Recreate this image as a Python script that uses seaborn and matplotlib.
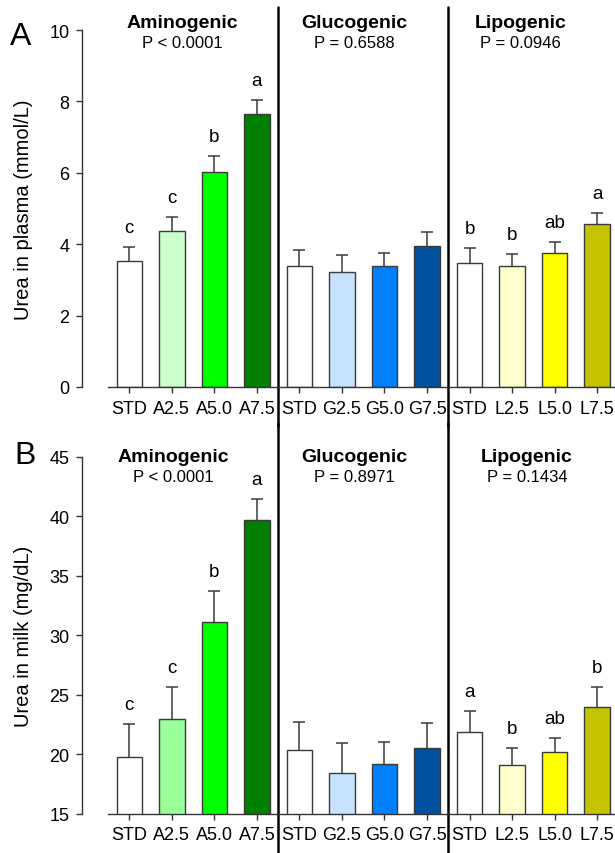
import numpy as np
import pandas as pd
import matplotlib
matplotlib.use("Agg")
import matplotlib.pyplot as plt
import seaborn as sns

# Data
labels = ["STD", "A2.5", "A5.0", "A7.5", "STD", "G2.5", "G5.0", "G7.5",
          "STD", "L2.5", "L5.0", "L7.5"]

plasma_mean = [3.54, 4.36, 6.01, 7.64, 3.38, 3.23, 3.40, 3.95, 3.48, 3.38, 3.76, 4.56]
plasma_se = [0.39, 0.41, 0.47, 0.39, 0.47, 0.48, 0.34, 0.40, 0.42, 0.35, 0.31, 0.31]
plasma_letters = ["c", "c", "b", "a", "", "", "", "", "b", "b", "ab", "a"]
plasma_p = ["P < 0.0001", "P = 0.6588", "P = 0.0946"]

milk_mean = [19.76, 22.98, 31.12, 39.68, 20.35, 18.44, 19.20, 20.54, 21.86, 19.11, 20.24, 23.98]
milk_se = [2.77, 2.66, 2.63, 1.77, 2.35, 2.55, 1.82, 2.07, 1.76, 1.46, 1.17, 1.68]
milk_letters = ["c", "c", "b", "a", "", "", "", "", "a", "b", "ab", "b"]
milk_p = ["P < 0.0001", "P = 0.8971", "P = 0.1434"]

groups = ["Aminogenic", "Glucogenic", "Lipogenic"]

colors_a = ["#ffffff", "#ccffcc", "#00ff00", "#008000",
            "#ffffff", "#c6e2ff", "#0080ff", "#0052a0",
            "#ffffff", "#ffffcc", "#ffff00", "#c4c400"]
colors_b = list(colors_a)
colors_b[1] = "#99ff99"

sns.set_style("white")
plt.rcParams["font.family"] = ["Liberation Sans", "DejaVu Sans"]
plt.rcParams["text.color"] = "black"
plt.rcParams["axes.labelcolor"] = "black"
plt.rcParams["xtick.color"] = "black"
plt.rcParams["ytick.color"] = "black"

fig = plt.figure(figsize=(6.15, 8.54), dpi=100)
ax_a = fig.add_axes([108 / 615, 1 - 388 / 854, 1 - 108 / 615, 357 / 854])
ax_b = fig.add_axes([108 / 615, 1 - 815 / 854, 1 - 108 / 615, 357.3 / 854])

edge = "#3a3a3a"


def draw_panel(ax, means, ses, letters, pvals, colors, ylim, yticks, ylabel,
               title_x, title_y, p_y):
    df = pd.DataFrame({"pos": [str(i) for i in range(len(means))], "val": means})
    sns.barplot(data=df, x="pos", y="val", hue="pos", palette=colors, legend=False,
                width=0.6, saturation=1, edgecolor=edge, linewidth=1.0, ax=ax,
                errorbar=None)
    x = np.arange(len(means))
    tops = np.array(means) + np.array(ses)
    # upper error bar only, with a single cap at the top
    ax.vlines(x, means, tops, color=edge, lw=1.1, zorder=3)
    ax.plot(x, tops, ls="none", marker="_", ms=8, mew=1.1, color=edge, zorder=3)
    for xi, t, lab in zip(x, tops, letters):
        if lab:
            ax.annotate(lab, (xi, t), xytext=(0, 8), textcoords="offset points",
                        ha="center", va="bottom", fontsize=13.5)
    for gx, g, p in zip(title_x, groups, pvals):
        ax.text(gx, title_y, g, ha="center", va="center", fontsize=14,
                fontweight="bold", clip_on=False)
        ax.text(gx, p_y, p, ha="center", va="center", fontsize=12, clip_on=False)

    ax.set_xlim(-0.5, 11.42)
    ax.set_ylim(*ylim)
    ax.set_yticks(yticks)
    ax.set_xticks(x)
    ax.set_xticklabels(labels)
    ax.set_xlabel("")
    ax.set_ylabel(ylabel, fontsize=14.5)
    ax.yaxis.set_label_coords(-0.148, 0.5)

    for side in ["top", "right"]:
        ax.spines[side].set_visible(False)
    ax.spines["left"].set_position(("outward", 18.7))
    for side in ["left", "bottom"]:
        ax.spines[side].set_color("#333333")
        ax.spines[side].set_linewidth(1.0)
    ax.tick_params(axis="both", direction="out", length=4, width=1,
                   color="#333333", labelsize=13, pad=5, bottom=True, left=True)
    ax.grid(False)


draw_panel(ax_a, plasma_mean, plasma_se, plasma_letters, plasma_p, colors_a,
           (0, 10), [0, 2, 4, 6, 8, 10], "Urea in plasma (mmol/L)",
           [1.24, 5.3, 9.2], 10.22, 9.64)
draw_panel(ax_b, milk_mean, milk_se, milk_letters, milk_p, colors_b,
           (15, 45), [15, 20, 25, 30, 35, 40, 45], "Urea in milk (mg/dL)",
           [1.04, 5.3, 9.35], 45.0, 43.35)

# group separators
for sep in [3.5, 7.5]:
    ax_a.axvline(sep, ymin=-0.11, ymax=1.064, color="black", lw=1.8, clip_on=False)
    ax_b.axvline(sep, ymin=-0.11, ymax=1.095, color="black", lw=1.8, clip_on=False)

fig.text(21 / 615, 1 - 37 / 854, "A", fontsize=23, ha="center", va="center")
fig.text(25 / 615, 1 - 456 / 854, "B", fontsize=23, ha="center", va="center")

fig.savefig("out.png", dpi=100)
